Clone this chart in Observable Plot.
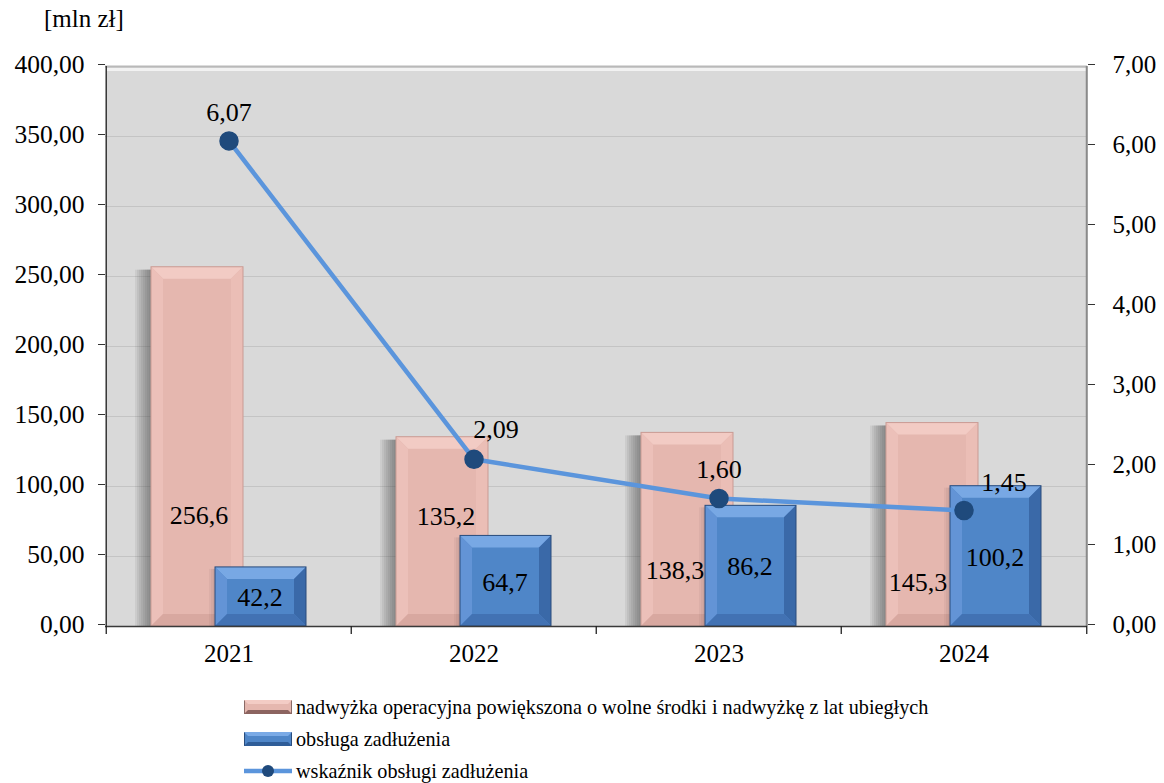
<!DOCTYPE html>
<html><head><meta charset="utf-8">
<script src="https://cdn.jsdelivr.net/npm/d3@7"></script>
<script src="https://cdn.jsdelivr.net/npm/@observablehq/plot@0.6"></script>
<style>
body{margin:0;background:#fff;font-family:"Liberation Serif","Times New Roman",serif;color:#000;}
#wrap{position:relative;width:1164px;height:783px;overflow:hidden;}
#unit{position:absolute;left:44px;top:5px;font-size:25px;font-family:"Liberation Serif",serif;}
#chart{position:absolute;left:0;top:0;}
.leg{position:absolute;left:244px;height:24px;display:flex;align-items:center;font-size:20.2px;white-space:nowrap;font-family:"Liberation Serif",serif;}
.leg svg{margin-right:4px;}
</style></head><body>
<div id="wrap"><div id="chart"></div><div id="unit">[mln zł]</div><div id="legend"></div></div>
<script>
const years = ["2021", "2022", "2023", "2024"];
const surplus = [256.6, 135.2, 138.3, 145.3];
const debtService = [42.2, 64.7, 86.2, 100.2];
const ratio = [6.07, 2.09, 1.60, 1.45];
const leftTicks = [0, 50, 100, 150, 200, 250, 300, 350, 400];
const rightTicks = [0, 1, 2, 3, 4, 5, 6, 7];
const seriesNames = [
  "nadwyżka operacyjna powiększona o wolne środki i nadwyżkę z lat ubiegłych",
  "obsługa zadłużenia",
  "wskaźnik obsługi zadłużenia"
];

const FONT = "'Liberation Serif', 'Times New Roman', serif";
const k = 400 / 7; // right axis -> left axis units
const data = years.map((y, i) => ({year: y, surplus: surplus[i], debt: debtService[i], ratio: ratio[i]}));
const fmt2 = v => v.toFixed(2).replace(".", ",");
const fmt1 = v => v.toFixed(1).replace(".", ",");

const W = 1164, H = 690, ML = 105, MR = 77, MT = 66, MB = 64;
const half = (W - ML - MR) / years.length / 2;

const pinkOff = {"2021": [-30, 69], "2022": [-28, -15], "2023": [-44, 41], "2024": [-46, 58]};
const ratioOff = {"2021": [0, -28], "2022": [22, -30], "2023": [0, -29], "2024": [40, -28]};

const pinkInset = {insetLeft: 45, insetRight: 108};
const blueInset = {insetLeft: 109, insetRight: 45};

// soft shadow layers (pixel shift, opacity)
const pinkShadow = [2, 4, 6, 8, 10, 12, 14, 16].map(s => [-s, 0.075]);
const blueShadow = [2, 4, 6].map(s => [-s, 0.05]);

const marks = [
  Plot.frame({fill: "#d9d9d9", stroke: null}),
  Plot.ruleY(leftTicks.slice(1, -1), {stroke: "#c4c4c4", strokeWidth: 1}),
  Plot.ruleY([400], {stroke: "#b9b9b9", strokeWidth: 2}),
  Plot.ruleY([400], {stroke: "#f2f2f2", strokeWidth: 3, dy: 3}),
  // bars with soft shadows
  ...pinkShadow.map(([dx, op]) => Plot.barY(data, {x: "year", y: "surplus", ...pinkInset, insetTop: 3, dx, fill: "#3c3c3c", fillOpacity: op})),
  Plot.barY(data, {x: "year", y: "surplus", ...pinkInset, fill: "#e5b7af"}),
  ...blueShadow.map(([dx, op]) => Plot.barY(data, {x: "year", y: "debt", ...blueInset, insetTop: 2, dx, fill: "#3c2c2a", fillOpacity: op})),
  Plot.barY(data, {x: "year", y: "debt", ...blueInset, fill: "#4f86c8"}),
  // axis lines and ticks
  Plot.ruleX([years[0]], {dx: -half, stroke: "#3a3a3a", strokeWidth: 1.5}),
  Plot.ruleX([years[years.length - 1]], {dx: half, stroke: "#8a8a8a", strokeWidth: 2}),
  Plot.ruleY([0], {stroke: "#3a3a3a", strokeWidth: 1.5}),
  Plot.ruleX(years, {dx: -half, insetTop: H - MT - MB, insetBottom: -8, stroke: "#222", strokeWidth: 1.3}),
  Plot.ruleX([years[years.length - 1]], {dx: half, insetTop: H - MT - MB, insetBottom: -8, stroke: "#222", strokeWidth: 1.3}),
  Plot.axisY({ticks: leftTicks, anchor: "left", tickSize: 7, tickPadding: 14, tickFormat: fmt2, fontSize: 25.5, fontFamily: FONT, stroke: "#333", label: null, dy: -2}),
  Plot.axisY({ticks: rightTicks.map(v => v * k), anchor: "right", tickSize: 7, tickPadding: 18, tickFormat: d => fmt2(d / k), fontSize: 25, fontFamily: FONT, stroke: "#333", label: null, dy: -2}),
  Plot.axisX({tickSize: 0, tickPadding: 18, fontSize: 25, fontFamily: FONT, label: null}),
  // value labels
  ...years.map(yr => Plot.text(data.filter(d => d.year === yr), {x: "year", y: d => d.surplus / 2, text: d => fmt1(d.surplus), dx: pinkOff[yr][0], dy: pinkOff[yr][1], fontSize: 26, fontFamily: FONT, fill: "#000"})),
  Plot.text(data, {x: "year", y: d => d.debt / 2, text: d => fmt1(d.debt), dx: 31, dy: 1, fontSize: 26, fontFamily: FONT, fill: "#000"}),
  // ratio line
  Plot.line(data, {x: "year", y: d => d.ratio * k, stroke: "#5b95dc", strokeWidth: 4.5}),
  Plot.dot(data, {x: "year", y: d => d.ratio * k, r: 9, fill: "#1f4a7c", stroke: "#1f4a7c"}),
  ...years.map(yr => Plot.text(data.filter(d => d.year === yr), {x: "year", y: d => d.ratio * k, text: d => fmt2(d.ratio), dx: ratioOff[yr][0], dy: ratioOff[yr][1], fontSize: 26, fontFamily: FONT, fill: "#000"}))
];

const chart = Plot.plot({
  width: W, height: H, marginLeft: ML, marginRight: MR, marginTop: MT, marginBottom: MB,
  style: {fontFamily: FONT, fontSize: "24px", color: "#000", background: "transparent", overflow: "visible"},
  x: {type: "band", domain: years, padding: 0},
  y: {domain: [0, 400]},
  marks
});
document.getElementById("chart").appendChild(chart);

const NS = "http://www.w3.org/2000/svg";
const barGroups = chart.querySelectorAll('g[aria-label="bar"]');
const pinkG = barGroups[pinkShadow.length];
const blueG = barGroups[pinkShadow.length + 1 + blueShadow.length];

function bevel(g, c, b0) {
  if (!g) return;
  const ng = document.createElementNS(NS, "g");
  if (g.getAttribute("transform")) ng.setAttribute("transform", g.getAttribute("transform"));
  g.querySelectorAll("rect").forEach(r => {
    const x = +r.getAttribute("x"), y = +r.getAttribute("y"), w = +r.getAttribute("width"), h = +r.getAttribute("height");
    const b = Math.min(b0, w / 2, h / 2);
    const polys = [
      [c.top, [[x, y], [x + w, y], [x + w - b, y + b], [x + b, y + b]]],
      [c.left, [[x, y], [x + b, y + b], [x + b, y + h - b], [x, y + h]]],
      [c.right, [[x + w, y], [x + w, y + h], [x + w - b, y + h - b], [x + w - b, y + b]]],
      [c.bottom, [[x, y + h], [x + b, y + h - b], [x + w - b, y + h - b], [x + w, y + h]]]
    ];
    polys.forEach(([fill, pts]) => {
      const p = document.createElementNS(NS, "polygon");
      p.setAttribute("points", pts.map(q => q.join(",")).join(" "));
      p.setAttribute("fill", fill);
      ng.appendChild(p);
    });
    const o = document.createElementNS(NS, "rect");
    o.setAttribute("x", x); o.setAttribute("y", y); o.setAttribute("width", w); o.setAttribute("height", h);
    o.setAttribute("fill", "none"); o.setAttribute("stroke", c.outline); o.setAttribute("stroke-width", 1);
    ng.appendChild(o);
  });
  g.parentNode.insertBefore(ng, g.nextSibling);
}
bevel(pinkG, {top: "#f2cbc4", left: "#ecc0b9", right: "#ebbeb6", bottom: "#d8a8a0", outline: "#c99b94"}, 12);
bevel(blueG, {top: "#78a8e4", left: "#6394d6", right: "#3a69a8", bottom: "#4272b3", outline: "#2a4c7c"}, 12);

// legend
const legend = document.getElementById("legend");
const sw = [
  '<svg width="48" height="14"><rect x="0.5" y="0.5" width="47" height="13" fill="#e5b7af" stroke="#8a6a66"/><polygon points="0,0 48,0 44,4 4,4" fill="#f3ccc5"/><polygon points="0,14 48,14 44,10 4,10" fill="#8c6460"/></svg>',
  '<svg width="48" height="14"><rect x="0.5" y="0.5" width="47" height="13" fill="#4f86c8" stroke="#2a4c7c"/><polygon points="0,0 48,0 44,4 4,4" fill="#7aaae6"/><polygon points="0,14 48,14 44,10 4,10" fill="#2f5d98"/></svg>',
  '<svg width="48" height="20"><line x1="0" y1="10" x2="48" y2="10" stroke="#5b95dc" stroke-width="4.5"/><circle cx="24" cy="10" r="6" fill="#1f4a7c"/></svg>'
];
const legTops = [695, 727, 759];
seriesNames.forEach((n, i) => {
  const d = document.createElement("div");
  d.className = "leg";
  d.style.top = legTops[i] + "px";
  d.innerHTML = sw[i] + "<span></span>";
  d.querySelector("span").textContent = n;
  legend.appendChild(d);
});
</script>
</body></html>
